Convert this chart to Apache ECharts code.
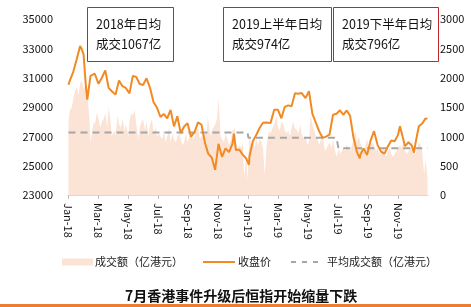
<!DOCTYPE html>
<html>
<head>
<meta charset="utf-8">
<script src="https://cdn.jsdelivr.net/npm/echarts@6/dist/echarts.min.js"></script>
<style>
html, body { margin: 0; padding: 0; background: #fff; }
#main { width: 471px; height: 307px; }
</style>
</head>
<body>
<div id="main"></div>
<script>
// 收盘价（恒指），[日期, 点位]
const closePrice = [
  ['2018-01-02', 30515], ['2018-01-05', 30815], ['2018-01-12', 31413], ['2018-01-19', 32255],
  ['2018-01-26', 33154], ['2018-01-29', 32967], ['2018-02-02', 32602], ['2018-02-06', 30595],
  ['2018-02-09', 29507], ['2018-02-15', 31115], ['2018-02-23', 31268], ['2018-03-02', 30583],
  ['2018-03-09', 30996], ['2018-03-16', 31501], ['2018-03-23', 30309], ['2018-03-29', 30093],
  ['2018-04-06', 29844], ['2018-04-13', 30808], ['2018-04-20', 30418], ['2018-04-27', 30281],
  ['2018-05-04', 29927], ['2018-05-11', 31122], ['2018-05-18', 31048], ['2018-05-25', 30588],
  ['2018-06-01', 30492], ['2018-06-08', 30958], ['2018-06-15', 30309], ['2018-06-22', 29338],
  ['2018-06-29', 28955], ['2018-07-06', 28316], ['2018-07-13', 28525], ['2018-07-20', 28224],
  ['2018-07-27', 28804], ['2018-08-03', 27676], ['2018-08-10', 28367], ['2018-08-17', 27213],
  ['2018-08-24', 27672], ['2018-08-31', 27888], ['2018-09-07', 26973], ['2018-09-14', 27286],
  ['2018-09-21', 27953], ['2018-09-28', 27788], ['2018-10-05', 26572], ['2018-10-12', 25801],
  ['2018-10-19', 25561], ['2018-10-26', 24717], ['2018-10-30', 24586], ['2018-11-02', 26486],
  ['2018-11-09', 25601], ['2018-11-16', 26183], ['2018-11-23', 25927], ['2018-11-30', 26506],
  ['2018-12-03', 27182], ['2018-12-07', 26063], ['2018-12-14', 26094], ['2018-12-21', 25753],
  ['2018-12-28', 25504], ['2019-01-03', 25064], ['2019-01-04', 25626], ['2019-01-11', 26667],
  ['2019-01-18', 27090], ['2019-01-25', 27569], ['2019-02-01', 27930], ['2019-02-08', 27946],
  ['2019-02-15', 27901], ['2019-02-22', 28816], ['2019-03-01', 28812], ['2019-03-08', 28228],
  ['2019-03-15', 29012], ['2019-03-22', 29113], ['2019-03-29', 29051], ['2019-04-05', 29936],
  ['2019-04-12', 29909], ['2019-04-18', 29963], ['2019-04-26', 29605], ['2019-05-03', 30081],
  ['2019-05-10', 28550], ['2019-05-17', 27946], ['2019-05-24', 27354], ['2019-05-31', 26901],
  ['2019-06-06', 26965], ['2019-06-14', 27118], ['2019-06-21', 28473], ['2019-06-28', 28543],
  ['2019-07-05', 28775], ['2019-07-12', 28471], ['2019-07-19', 28765], ['2019-07-26', 28398],
  ['2019-08-02', 26919], ['2019-08-09', 25939], ['2019-08-15', 25495], ['2019-08-16', 25734],
  ['2019-08-23', 26179], ['2019-08-30', 25725], ['2019-09-06', 26691], ['2019-09-13', 27353],
  ['2019-09-20', 26435], ['2019-09-27', 25955], ['2019-10-04', 25822], ['2019-10-11', 26308],
  ['2019-10-18', 26720], ['2019-10-25', 26667], ['2019-11-01', 27101], ['2019-11-05', 27683],
  ['2019-11-08', 27651], ['2019-11-15', 26327], ['2019-11-22', 26595], ['2019-11-29', 26346],
  ['2019-12-03', 25888], ['2019-12-06', 26498], ['2019-12-13', 27688], ['2019-12-20', 27871],
  ['2019-12-27', 28225], ['2019-12-31', 28190]
];

// 成交额（亿港元）
const turnover = [
  ['2018-01-02', 1250], ['2018-01-05', 1450], ['2018-01-09', 1500], ['2018-01-12', 1650],
  ['2018-01-16', 1780], ['2018-01-19', 1850], ['2018-01-23', 1700], ['2018-01-26', 1900],
  ['2018-01-30', 1950], ['2018-02-02', 1800], ['2018-02-06', 1900], ['2018-02-09', 1750],
  ['2018-02-13', 1300], ['2018-02-15', 900], ['2018-02-21', 1250], ['2018-02-23', 1200],
  ['2018-02-27', 1400], ['2018-03-02', 1300], ['2018-03-06', 1150], ['2018-03-09', 1250],
  ['2018-03-13', 1300], ['2018-03-16', 1400], ['2018-03-20', 1150], ['2018-03-23', 1500],
  ['2018-03-27', 1250], ['2018-03-29', 1000], ['2018-04-04', 1100], ['2018-04-06', 1000],
  ['2018-04-10', 1350], ['2018-04-13', 1200], ['2018-04-17', 1150], ['2018-04-20', 1300],
  ['2018-04-24', 1100], ['2018-04-27', 1200], ['2018-05-02', 1000], ['2018-05-04', 1250],
  ['2018-05-08', 1400], ['2018-05-11', 1350], ['2018-05-15', 1450], ['2018-05-18', 1200],
  ['2018-05-23', 950], ['2018-05-25', 1150], ['2018-05-29', 1250], ['2018-06-01', 1300],
  ['2018-06-05', 1100], ['2018-06-08', 1250], ['2018-06-12', 1000], ['2018-06-15', 1200],
  ['2018-06-19', 1300], ['2018-06-22', 1050], ['2018-06-26', 1150], ['2018-06-29', 1000],
  ['2018-07-03', 1050], ['2018-07-06', 1000], ['2018-07-10', 950], ['2018-07-13', 1100],
  ['2018-07-17', 900], ['2018-07-20', 1000], ['2018-07-24', 1150], ['2018-07-27', 900],
  ['2018-07-31', 1050], ['2018-08-03', 950], ['2018-08-07', 900], ['2018-08-10', 1000],
  ['2018-08-14', 1050], ['2018-08-17', 950], ['2018-08-21', 850], ['2018-08-24', 900],
  ['2018-08-28', 1050], ['2018-08-31', 900], ['2018-09-04', 1000], ['2018-09-07', 1050],
  ['2018-09-11', 950], ['2018-09-14', 1000], ['2018-09-18', 1100], ['2018-09-21', 1150],
  ['2018-09-25', 950], ['2018-09-28', 1000], ['2018-10-02', 1000], ['2018-10-05', 1050],
  ['2018-10-09', 1100], ['2018-10-11', 1350], ['2018-10-16', 1000], ['2018-10-19', 1100],
  ['2018-10-23', 1150], ['2018-10-26', 1200], ['2018-10-30', 1300], ['2018-11-02', 1650],
  ['2018-11-06', 1000], ['2018-11-09', 950], ['2018-11-13', 900], ['2018-11-16', 1050],
  ['2018-11-20', 950], ['2018-11-23', 850], ['2018-11-27', 950], ['2018-11-30', 1100],
  ['2018-12-04', 1150], ['2018-12-07', 900], ['2018-12-11', 800], ['2018-12-14', 850],
  ['2018-12-18', 800], ['2018-12-21', 900], ['2018-12-24', 300], ['2018-12-28', 650],
  ['2018-12-31', 250], ['2019-01-02', 700], ['2019-01-04', 1000], ['2019-01-08', 850],
  ['2019-01-11', 900], ['2019-01-15', 800], ['2019-01-18', 950], ['2019-01-22', 850],
  ['2019-01-25', 950], ['2019-01-29', 900], ['2019-02-01', 800], ['2019-02-04', 350],
  ['2019-02-08', 850], ['2019-02-12', 1100], ['2019-02-15', 1050], ['2019-02-19', 1150],
  ['2019-02-22', 1200], ['2019-02-26', 1350], ['2019-03-01', 1150], ['2019-03-05', 1100],
  ['2019-03-08', 1250], ['2019-03-12', 1200], ['2019-03-15', 1100], ['2019-03-19', 1050],
  ['2019-03-22', 1100], ['2019-03-26', 1000], ['2019-03-29', 1150], ['2019-04-02', 1250],
  ['2019-04-04', 1150], ['2019-04-09', 1100], ['2019-04-12', 1050], ['2019-04-16', 1200],
  ['2019-04-18', 1050], ['2019-04-23', 950], ['2019-04-26', 1000], ['2019-04-30', 850],
  ['2019-05-03', 900], ['2019-05-06', 1350], ['2019-05-10', 1200], ['2019-05-14', 1100],
  ['2019-05-17', 1000], ['2019-05-21', 950], ['2019-05-24', 850], ['2019-05-28', 950],
  ['2019-05-31', 1050], ['2019-06-04', 800], ['2019-06-06', 750], ['2019-06-11', 850],
  ['2019-06-14', 900], ['2019-06-18', 800], ['2019-06-21', 950], ['2019-06-25', 750],
  ['2019-06-28', 650], ['2019-07-03', 800], ['2019-07-05', 700], ['2019-07-09', 750],
  ['2019-07-12', 800], ['2019-07-16', 750], ['2019-07-19', 850], ['2019-07-23', 800],
  ['2019-07-26', 750], ['2019-07-30', 850], ['2019-08-02', 950], ['2019-08-06', 1100],
  ['2019-08-09', 900], ['2019-08-13', 1000], ['2019-08-16', 900], ['2019-08-20', 800],
  ['2019-08-23', 750], ['2019-08-27', 850], ['2019-08-30', 950], ['2019-09-03', 800],
  ['2019-09-06', 850], ['2019-09-10', 900], ['2019-09-13', 850], ['2019-09-17', 750],
  ['2019-09-20', 800], ['2019-09-24', 700], ['2019-09-27', 750], ['2019-10-03', 800],
  ['2019-10-04', 700], ['2019-10-08', 650], ['2019-10-11', 750], ['2019-10-15', 800],
  ['2019-10-18', 700], ['2019-10-22', 650], ['2019-10-25', 700], ['2019-10-29', 750],
  ['2019-11-01', 800], ['2019-11-05', 850], ['2019-11-08', 800], ['2019-11-12', 900],
  ['2019-11-15', 750], ['2019-11-19', 700], ['2019-11-22', 750], ['2019-11-26', 800],
  ['2019-11-29', 950], ['2019-12-03', 750], ['2019-12-06', 700], ['2019-12-10', 800],
  ['2019-12-13', 900], ['2019-12-17', 850], ['2019-12-20', 750], ['2019-12-24', 350],
  ['2019-12-27', 600], ['2019-12-31', 300]
];

// 平均成交额（分段）
const avgTurnover = [
  ['2018-01-02', 1067], ['2018-12-31', 1067],
  ['2019-01-02', 974], ['2019-06-28', 974],
  ['2019-07-02', 796], ['2019-12-31', 796]
];

// 每两个月一个刻度，从 2018 年 1 月起
const tickLabels = ['Jan-18', 'Mar-18', 'May-18', 'Jul-18', 'Sep-18', 'Nov-18',
  'Jan-19', 'Mar-19', 'May-19', 'Jul-19', 'Sep-19', 'Nov-19'];

const notes = [
  { x: 87, w: 86, text: '2018年日均\n成交1067亿' },
  { x: 223, w: 108, text: '2019上半年日均\n成交974亿' },
  { x: 333, w: 105, text: '2019下半年日均\n成交796亿' }
];

const font = '"Noto Sans CJK SC", "Microsoft YaHei", sans-serif';
const colors = { area: '#FBE3D5', price: '#F28A24', avg: '#A6A6A6' };

// 日期 -> 自 2018 年 1 月起的月数（带小数）
function monthPos(d) {
  let p = d.split('-').map(Number);
  let days = new Date(p[0], p[1], 0).getDate();
  return (p[0] - 2018) * 12 + (p[1] - 1) + (p[2] - 1) / days;
}
function toXY(list) {
  return list.map(function(r) { return [monthPos(r[0]), r[1]]; });
}

let chart = echarts.init(document.getElementById('main'));

let graphics = [];
notes.forEach(function(n) {
  graphics.push({
    type: 'rect', z: 100,
    shape: { x: n.x + 0.5, y: 7.5, width: n.w, height: 54 },
    style: { fill: '#fff', stroke: '#C0262B', lineWidth: 1 }
  });
  graphics.push({
    type: 'text', z: 101, x: n.x + 9, y: 14,
    style: { text: n.text, font: '12.5px ' + font, fill: '#111', lineHeight: 20 }
  });
});

// 图例
const legendY = 262;
const legendFont = '11px ' + font;
graphics.push(
  { type: 'rect', shape: { x: 62, y: legendY - 3.5, width: 31, height: 7 }, style: { fill: colors.area } },
  { type: 'text', x: 95, y: legendY, style: { text: '成交额（亿港元）', font: legendFont, fill: '#222', verticalAlign: 'middle' } },
  { type: 'line', shape: { x1: 203, y1: legendY, x2: 235, y2: legendY }, style: { stroke: colors.price, lineWidth: 2 } },
  { type: 'text', x: 238, y: legendY, style: { text: '收盘价', font: legendFont, fill: '#222', verticalAlign: 'middle' } },
  { type: 'line', shape: { x1: 291, y1: legendY, x2: 324, y2: legendY }, style: { stroke: colors.avg, lineWidth: 2, lineDash: [5, 6] } },
  { type: 'text', x: 327, y: legendY, style: { text: '平均成交额（亿港元）', font: legendFont, fill: '#222', verticalAlign: 'middle' } }
);

graphics.push({
  type: 'rect', left: 0, top: 304, z: 100,
  shape: { width: 471, height: 3 },
  style: { fill: '#ED7D31' }
});

function plain(v) { return String(v); }

let option = {
  animation: false,
  textStyle: { fontFamily: font },
  grid: { left: 68, right: 43, top: 19, bottom: 112 },
  title: {
    text: '7月香港事件升级后恒指开始缩量下跌',
    left: 125, top: 289, padding: 0,
    textStyle: { fontSize: 14, lineHeight: 14, fontWeight: 'bold', color: '#111', fontFamily: font }
  },
  xAxis: {
    type: 'value',
    min: 0, max: 24, interval: 2,
    axisLine: { lineStyle: { color: '#D9D9D9', width: 1 } },
    axisTick: { show: true, length: 4, lineStyle: { color: '#BFBFBF' } },
    splitLine: { show: false },
    axisLabel: {
      rotate: -90, margin: 8, fontSize: 11, color: '#111',
      showMaxLabel: false,
      formatter: function(v) {
        return tickLabels[Math.round(v / 2)] || '';
      }
    }
  },
  yAxis: [{
    type: 'value', min: 23000, max: 35000, interval: 2000,
    axisLine: { show: false }, axisTick: { show: false }, splitLine: { show: false },
    axisLabel: { fontSize: 11, color: '#111', margin: 15, formatter: plain }
  }, {
    type: 'value', min: 0, max: 3000, interval: 500,
    axisLine: { show: false }, axisTick: { show: false }, splitLine: { show: false },
    axisLabel: { fontSize: 11, color: '#111', margin: 12, formatter: plain }
  }],
  graphic: graphics,
  series: [{
    name: '成交额（亿港元）',
    type: 'line', yAxisIndex: 1,
    symbol: 'none',
    lineStyle: { width: 0 },
    itemStyle: { color: colors.area },
    areaStyle: { color: colors.area, opacity: 1 },
    data: toXY(turnover), z: 1
  }, {
    name: '平均成交额（亿港元）',
    type: 'line', yAxisIndex: 1,
    symbol: 'none',
    itemStyle: { color: colors.avg },
    lineStyle: { color: colors.avg, width: 2, type: [7, 5] },
    data: toXY(avgTurnover), z: 2
  }, {
    name: '收盘价',
    type: 'line', yAxisIndex: 0,
    symbol: 'none',
    itemStyle: { color: colors.price },
    lineStyle: { color: colors.price, width: 2 },
    data: toXY(closePrice), z: 3
  }]
};

chart.setOption(option);
</script>
</body>
</html>
